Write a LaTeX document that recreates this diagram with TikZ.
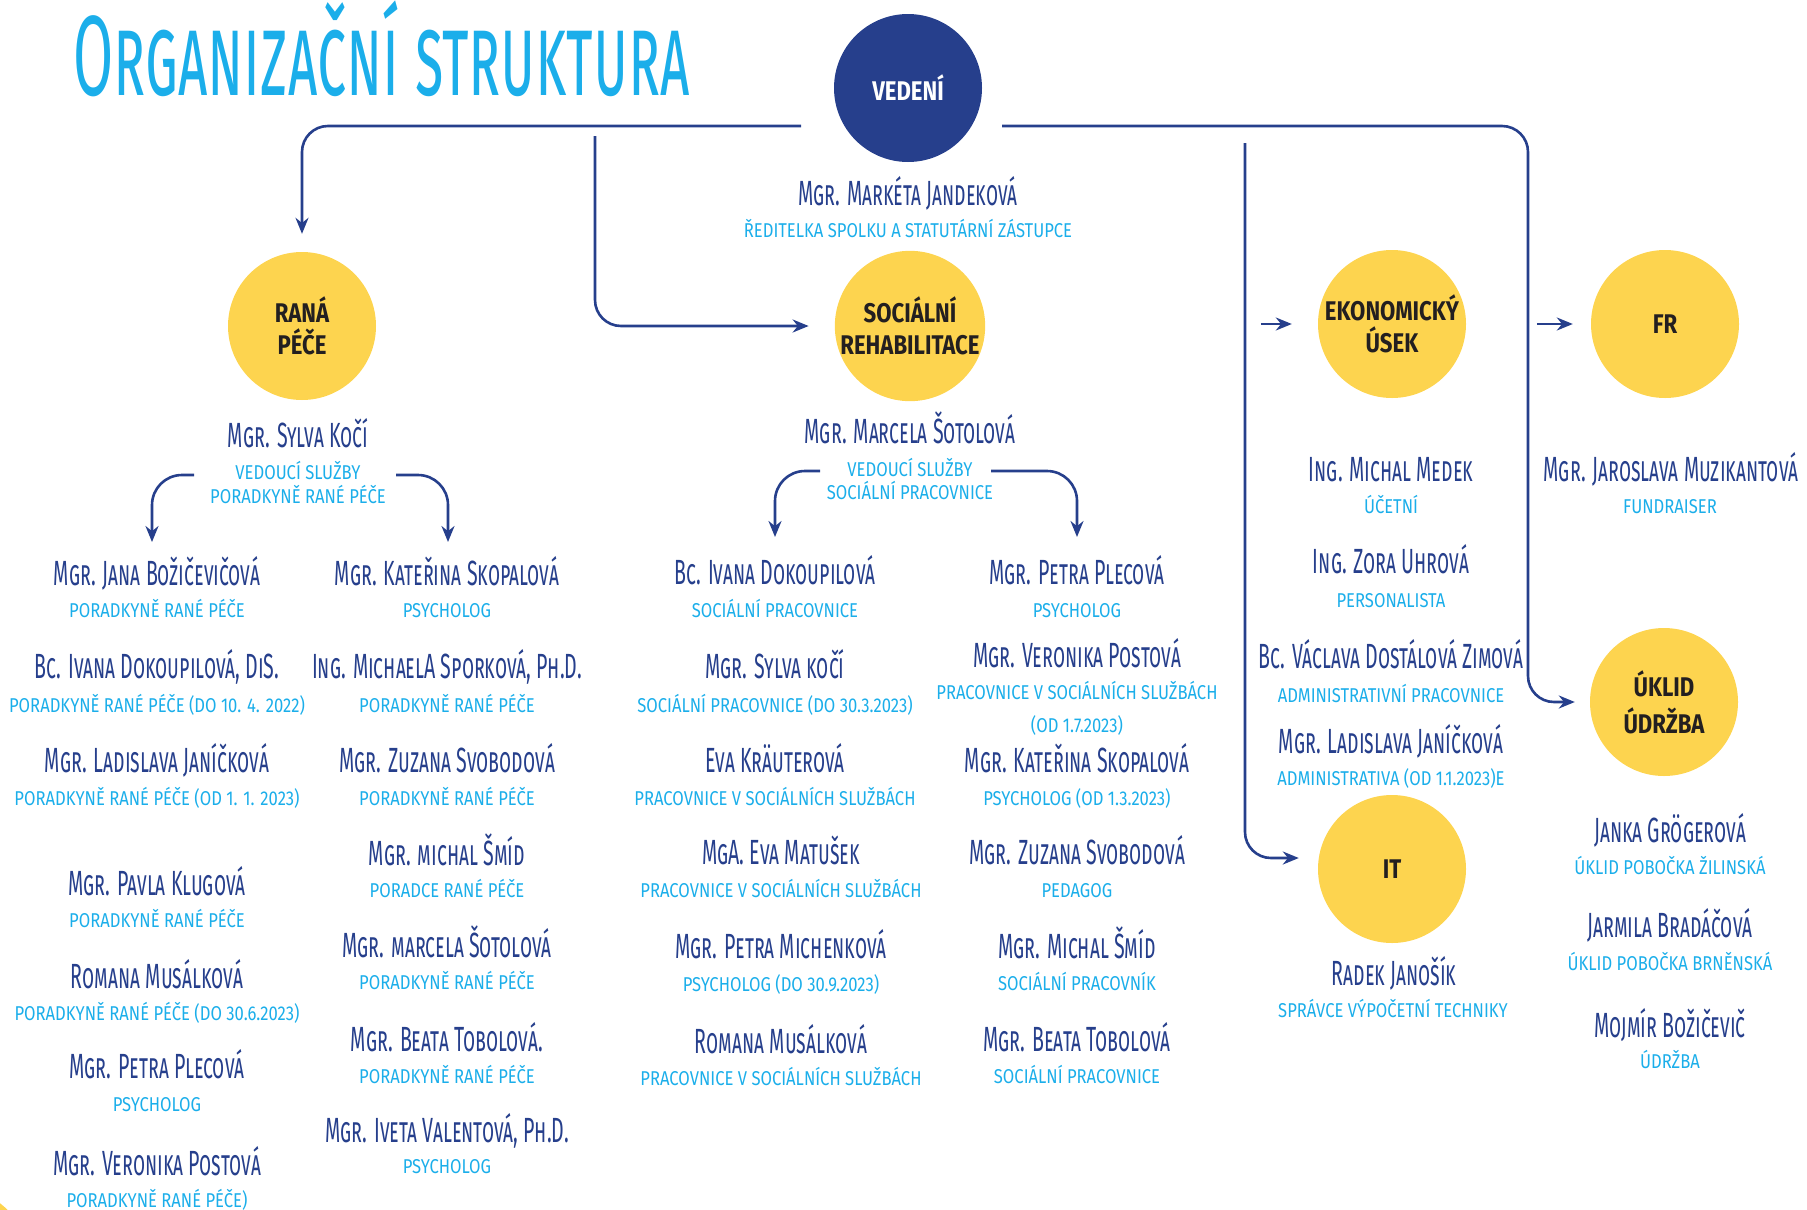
\documentclass[tikz,border=0pt]{standalone}
\usepackage{fontspec}
\usepackage{xcolor}
\usepackage{tikz}
\usetikzlibrary{arrows.meta}

\newfontfamily\namefont[FakeStretch=0.56,Letters=SmallCaps]{Fira Sans}
\newfontfamily\titlefont[FakeStretch=0.51,Letters=SmallCaps]{Fira Sans}
\newfontfamily\rolefont[FakeStretch=0.83]{Fira Sans}
\newfontfamily\unitfont[FakeStretch=0.82]{Fira Sans}

\definecolor{navy}{HTML}{263F8C}
\definecolor{sun}{HTML}{FDD44F}
\definecolor{sky}{HTML}{1BAEEA}
\definecolor{ink}{HTML}{231F20}

\begin{document}
\begin{tikzpicture}[x=1pt, y=-1pt,
    dept/.style={circle, fill=sun, minimum size=148pt, inner sep=0pt, align=center,
      text=ink, font=\unitfont\bfseries\fontsize{27}{32}\selectfont},
    person/.style={anchor=base, inner sep=0pt, text=navy, font=\namefont\fontsize{35}{40}\selectfont},
    job/.style={anchor=base, inner sep=0pt, text=sky, font=\rolefont\fontsize{20}{24}\selectfont},
    conn/.style={draw=navy, line width=2.6pt, rounded corners=26pt, -{Stealth[length=16pt,width=13pt]}}]
  \useasboundingbox (0,0) rectangle (1807,1210);

  % Title
  \node[anchor=base west, inner sep=0pt, text=sky, font=\titlefont\fontsize{114}{120}\selectfont]
    (title) at (73,95) {Organizační struktura};

  % Units
  \node[dept, fill=navy, text=white] (vedeni) at (908,88) {VEDENÍ};
  \node[dept] (rana)  at (302,326)  {RANÁ\\PÉČE};
  \node[dept] (soc)   at (910,326)  {SOCIÁLNÍ\\REHABILITACE};
  \node[dept] (ek)    at (1392,324) {EKONOMICKÝ\\ÚSEK};
  \node[dept] (fr)    at (1665,324) {FR};
  \node[dept] (uklid) at (1664,702) {ÚKLID\\[5pt]ÚDRŽBA};
  \node[dept] (it)    at (1392,869) {IT};
  \begin{scope}
    \clip (0,0) rectangle (1807,1210);
    \fill[sun] (-45,1262) circle (74);
  \end{scope}

  % Vedeni
  \node[person] (jandekova)  at (908,205) {Mgr. Markéta Jandeková};
  \node[job] (jandekovaR) at (908,237) {ŘEDITELKA SPOLKU A STATUTÁRNÍ ZÁSTUPCE};

  % Rana pece
  \node[person] (koci)   at (298,447) {Mgr. Sylva Kočí};
  \node[job] (kociR)  at (298,479) {VEDOUCÍ SLUŽBY};
  \node[job] (kociR2) at (298,503) {PORADKYNĚ RANÉ PÉČE};

  \node[person] (bozic)    at (157,585)  {Mgr. Jana Božičevičová};
  \node[job] (bozicR)   at (157,617)  {PORADKYNĚ RANÉ PÉČE};
  \node[person] (dokoup)   at (157,678)  {Bc. Ivana Dokoupilová, DiS.};
  \node[job] (dokoupR)  at (157,712)  {PORADKYNĚ RANÉ PÉČE (DO 10. 4. 2022)};
  \node[person] (janic)    at (157,772)  {Mgr. Ladislava Janíčková};
  \node[job] (janicR)   at (157,805)  {PORADKYNĚ RANÉ PÉČE (OD 1. 1. 2023)};
  \node[person] (klug)     at (157,895)  {Mgr. Pavla Klugová};
  \node[job] (klugR)    at (157,927)  {PORADKYNĚ RANÉ PÉČE};
  \node[person] (musal)    at (157,988)  {Romana Musálková};
  \node[job] (musalR)   at (157,1020) {PORADKYNĚ RANÉ PÉČE (DO 30.6.2023)};
  \node[person] (plec)     at (157,1078) {Mgr. Petra Plecová};
  \node[job] (plecR)    at (157,1111) {PSYCHOLOG};
  \node[person] (post)     at (157,1175) {Mgr. Veronika Postová};
  \node[job] (postR)    at (157,1207) {PORADKYNĚ RANÉ PÉČE)};

  \node[person] (skop)     at (447,585)  {Mgr. Kateřina Skopalová};
  \node[job] (skopR)    at (447,617)  {PSYCHOLOG};
  \node[person] (spork)    at (447,678)  {Ing. MichaelA Sporková, Ph.D.};
  \node[job] (sporkR)   at (447,712)  {PORADKYNĚ RANÉ PÉČE};
  \node[person] (svob)     at (447,772)  {Mgr. Zuzana Svobodová};
  \node[job] (svobR)    at (447,805)  {PORADKYNĚ RANÉ PÉČE};
  \node[person] (smid)     at (447,865)  {Mgr. michal Šmíd};
  \node[job] (smidR)    at (447,897)  {PORADCE RANÉ PÉČE};
  \node[person] (sotol)    at (447,957)  {Mgr. marcela Šotolová};
  \node[job] (sotolR)   at (447,989)  {PORADKYNĚ RANÉ PÉČE};
  \node[person] (tobol)    at (447,1051) {Mgr. Beata Tobolová.};
  \node[job] (tobolR)   at (447,1083) {PORADKYNĚ RANÉ PÉČE};
  \node[person] (valent)   at (447,1142) {Mgr. Iveta Valentová, Ph.D.};
  \node[job] (valentR)  at (447,1173) {PSYCHOLOG};

  % Socialni rehabilitace
  \node[person] (sotolova)   at (910,443) {Mgr. Marcela Šotolová};
  \node[job] (sotolovaR)  at (910,476) {VEDOUCÍ SLUŽBY};
  \node[job] (sotolovaR2) at (910,499) {SOCIÁLNÍ PRACOVNICE};

  \node[person] (sdokoup)  at (775,584)  {Bc. Ivana Dokoupilová};
  \node[job] (sdokoupR) at (775,617)  {SOCIÁLNÍ PRACOVNICE};
  \node[person] (skoci)    at (775,678)  {Mgr. Sylva kočí};
  \node[job] (skociR)   at (775,712)  {SOCIÁLNÍ PRACOVNICE (DO 30.3.2023)};
  \node[person] (kraut)    at (775,772)  {Eva Kräuterová};
  \node[job] (krautR)   at (775,805)  {PRACOVNICE V SOCIÁLNÍCH SLUŽBÁCH};
  \node[person] (matus)    at (781,864)  {MgA. Eva Matušek};
  \node[job] (matusR)   at (781,897)  {PRACOVNICE V SOCIÁLNÍCH SLUŽBÁCH};
  \node[person] (michen)   at (781,958)  {Mgr. Petra Michenková};
  \node[job] (michenR)  at (781,991)  {PSYCHOLOG (DO 30.9.2023)};
  \node[person] (smusal)   at (781,1053) {Romana Musálková};
  \node[job] (smusalR)  at (781,1085) {PRACOVNICE V SOCIÁLNÍCH SLUŽBÁCH};

  \node[person] (splec)    at (1077,584)  {Mgr. Petra Plecová};
  \node[job] (splecR)   at (1077,617)  {PSYCHOLOG};
  \node[person] (spost)    at (1077,667)  {Mgr. Veronika Postová};
  \node[job] (spostR)   at (1077,699)  {PRACOVNICE V SOCIÁLNÍCH SLUŽBÁCH};
  \node[job] (spostR2)  at (1077,732)  {(OD 1.7.2023)};
  \node[person] (sskop)    at (1077,772)  {Mgr. Kateřina Skopalová};
  \node[job] (sskopR)   at (1077,805)  {PSYCHOLOG (OD 1.3.2023)};
  \node[person] (ssvob)    at (1077,864)  {Mgr. Zuzana Svobodová};
  \node[job] (ssvobR)   at (1077,897)  {PEDAGOG};
  \node[person] (ssmid)    at (1077,958)  {Mgr. Michal Šmíd};
  \node[job] (ssmidR)   at (1077,990)  {SOCIÁLNÍ PRACOVNÍK};
  \node[person] (stobol)   at (1077,1051) {Mgr. Beata Tobolová};
  \node[job] (stobolR)  at (1077,1083) {SOCIÁLNÍ PRACOVNICE};

  % Ekonomicky usek, FR, IT, uklid
  \node[person] (medek)    at (1391,481) {Ing. Michal Medek};
  \node[job] (medekR)   at (1391,513) {ÚČETNÍ};
  \node[person] (uhrova)   at (1391,573) {Ing. Zora Uhrová};
  \node[job] (uhrovaR)  at (1391,607) {PERSONALISTA};
  \node[person] (zimova)   at (1391,668) {Bc. Václava Dostálová Zimová};
  \node[job] (zimovaR)  at (1391,702) {ADMINISTRATIVNÍ PRACOVNICE};
  \node[person] (ejanic)   at (1391,753) {Mgr. Ladislava Janíčková};
  \node[job] (ejanicR)  at (1391,785) {ADMINISTRATIVA (OD 1.1.2023)E};

  \node[person] (muzik)    at (1671,481) {Mgr. Jaroslava Muzikantová};
  \node[job] (muzikR)   at (1670,513) {FUNDRAISER};

  \node[person] (janosik)  at (1394,985)  {Radek Janošík};
  \node[job] (janosikR) at (1393,1017) {SPRÁVCE VÝPOČETNÍ TECHNIKY};

  \node[person] (groger)   at (1670,842)  {Janka Grögerová};
  \node[job] (grogerR)  at (1670,874)  {ÚKLID POBOČKA ŽILINSKÁ};
  \node[person] (bradac)   at (1670,937)  {Jarmila Bradáčová};
  \node[job] (bradacR)  at (1670,970)  {ÚKLID POBOČKA BRNĚNSKÁ};
  \node[person] (mojmir)   at (1670,1037) {Mojmír Božičevič};
  \node[job] (mojmirR)  at (1670,1068) {ÚDRŽBA};

  % Connect the nodes
  \coordinate (hubL)  at (801,126);
  \coordinate (hubR)  at (1002,126);
  \coordinate (socTop) at (595,136);
  \coordinate (ekTop) at (1245,143);
  \coordinate (rbend) at (1528,702);
  \draw[conn, shorten >=18pt] (hubL) -| (rana.north);
  \draw[conn, shorten >=26pt] (socTop) |- (soc.west);
  \draw[conn, shorten >=15pt] (hubR) -| (rbend) -- (uklid.west);
  \draw[conn, shorten >=19pt] (ekTop) |- ([yshift=11pt]it.west);
  \draw[conn] ([xshift=-57pt]ek.west) -- ([xshift=-26pt]ek.west);
  \draw[conn] ([xshift=-54pt]fr.west) -- ([xshift=-18pt]fr.west);

  \coordinate (rpL) at (194,475);
  \coordinate (rpR) at (396,475);
  \coordinate (srL) at (820,471);
  \coordinate (srR) at (991,471);
  \coordinate (rpLend) at (152,542);
  \coordinate (rpRend) at (448,542);
  \coordinate (srLend) at (775,537);
  \coordinate (srRend) at (1077,537);
  \draw[conn, rounded corners=30pt] (rpL) -| (rpLend);
  \draw[conn, rounded corners=30pt] (rpR) -| (rpRend);
  \draw[conn, rounded corners=30pt] (srL) -| (srLend);
  \draw[conn, rounded corners=30pt] (srR) -| (srRend);

\end{tikzpicture}
\end{document}
